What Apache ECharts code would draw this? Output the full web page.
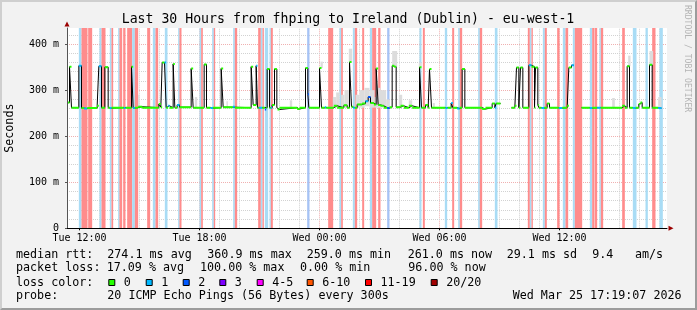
<!DOCTYPE html>
<html><head><meta charset="utf-8">
<script src="https://cdn.jsdelivr.net/npm/echarts@6/dist/echarts.min.js"></script>
<style>
html,body{margin:0;padding:0;background:#f2f2f2;overflow:hidden;}
#wrap{position:relative;width:697px;height:310px;}
#c{width:697px;height:310px;}
#frame{position:absolute;left:0;top:0;width:697px;height:310px;box-sizing:border-box;pointer-events:none;
border-top:2px solid #cfcfcf;border-left:2px solid #cfcfcf;border-right:2px solid #9c9c9c;border-bottom:2px solid #9c9c9c;}
</style></head>
<body><div id="wrap"><div id="c"></div><div id="frame"></div></div>
<script>
// ---------- data (time in minutes since Tue 00:00, rtt in ms) ----------
const xTickMinutes = [720, 1080, 1440, 1800, 2160];
const xTickLabels = ['Tue 12:00', 'Tue 18:00', 'Wed 00:00', 'Wed 06:00', 'Wed 12:00'];
const yTickValues = [0, 100, 200, 300, 400];
const yTickLabels = ['0', '100 m', '200 m', '300 m', '400 m'];
const lossLabels = ['0', '1', '2', '3', '4-5', '6-10', '11-19', '20/20'];
const lossColors = ['#26ff00', '#00b8ff', '#0059ff', '#7e00ff', '#ff00ff', '#ff5500', '#ff0000', '#a10000'];

// median rtt runs: [start minute, value ms (null = no data), loss class]
const medianRuns = [
 [683,273,0],[690,351,0],[696,262,0],[718,353,1],[726,261,0],[734,260,1],[743,261,0],[773,266,0],
 [778,352,1],[786,262,0],[796,350,0],[806,262,0],[811,261,1],[816,262,0],[853,261,1],[858,262,0],
 [876,351,0],[881,261,1],[886,262,0],[896,264,0],[908,262,0],[958,270,0],[964,263,0],[968,360,0],
 [975,360,1],[980,262,0],[986,266,1],[990,262,0],[1001,357,0],[1006,262,0],[1013,268,1],[1020,263,0],
 [1055,347,0],[1061,262,0],[1094,356,0],[1101,262,0],[1113,261,1],[1120,262,0],[1145,347,0],[1151,263,0],
 [1180,264,1],[1186,262,0],[1235,351,0],[1241,268,0],[1250,353,1],[1254,262,0],[1258,262,1],[1268,262,0],
 [1276,258,2],[1280,262,0],[1283,346,0],[1290,262,0],[1294,262,1],[1298,268,0],[1305,346,0],[1312,262,0],
 [1314,258,0],[1320,262,0],[1373,259,0],[1380,262,0],[1398,348,0],[1405,291,2],[1408,262,0],[1440,348,0],
 [1446,262,0],[1456,263,1],[1460,262,0],[1483,266,0],[1493,262,0],[1513,267,0],[1523,262,0],[1530,361,0],
 [1536,264,0],[1541,262,1],[1546,262,0],[1553,269,0],[1568,271,0],[1578,276,1],[1586,285,2],[1593,272,0],
 [1603,269,0],[1610,347,0],[1616,268,0],[1623,266,0],[1633,262,0],[1643,261,2],[1650,263,0],[1658,353,0],
 [1664,351,0],[1670,263,0],[1683,266,0],[1693,262,0],[1708,266,0],[1718,262,0],[1740,350,0],[1746,262,0],
 [1758,268,0],[1766,262,0],[1770,346,0],[1776,262,0],[1818,261,1],[1824,262,0],[1835,272,1],[1840,262,0],
 [1853,260,1],[1860,262,0],[1868,346,0],[1876,262,0],[1928,259,0],[1938,262,0],[1958,271,0],[1966,262,1],
 [1970,271,0],[1983,null,0],[2016,262,0],[2026,266,0],[2031,349,0],[2038,262,0],[2043,349,0],[2050,262,0],
 [2068,354,1],[2076,351,0],[2085,262,0],[2088,349,0],[2095,268,0],[2098,262,0],[2106,261,1],[2114,262,0],
 [2123,271,0],[2130,262,0],[2158,261,1],[2168,262,0],[2183,266,0],[2188,349,0],[2196,354,1],[2203,null,0],
 [2226,262,0],[2251,261,1],[2258,262,0],[2273,262,1],[2283,262,0],[2348,266,0],[2356,262,0],[2363,352,0],
 [2370,262,0],[2380,261,1],[2388,262,0],[2398,270,0],[2403,273,0],[2408,262,0],[2430,355,0],[2438,262,0],
 [2456,261,1],[2466,null,0]
];

// loss background stripes: [start minute, end minute, loss class]
const lossStripes = [
 [718,726,1],[726,744,6],[746,758,6],[780,786,1],[786,798,6],[811,816,1],[816,821,6],[836,840,1],[840,848,6],
 [851,858,6],[863,878,6],[878,886,1],[886,896,6],[923,932,6],[940,948,1],[948,956,6],[976,984,1],[1016,1020,1],
 [1020,1026,6],[1080,1085,1],[1085,1090,6],[1118,1123,1],[1123,1127,6],[1181,1186,1],[1186,1193,6],[1256,1264,6],
 [1264,1269,1],[1269,1273,6],[1276,1286,1],[1290,1294,1],[1294,1300,6],[1403,1410,2],[1466,1481,6],[1500,1505,1],
 [1505,1510,6],[1540,1546,1],[1546,1553,6],[1568,1574,6],[1591,1598,1],[1598,1610,6],[1616,1623,6],[1643,1650,2],
 [1740,1746,1],[1750,1756,6],[1816,1823,1],[1838,1844,6],[1856,1861,1],[1861,1868,6],[1916,1921,1],[1921,1928,6],
 [1966,1974,1],[2065,2071,6],[2071,2076,1],[2076,2080,6],[2110,2116,1],[2116,2122,6],[2153,2160,6],[2170,2178,1],
 [2178,2186,6],[2200,2206,1],[2206,2228,6],[2251,2258,1],[2258,2265,6],[2266,2273,6],[2280,2284,1],[2284,2291,6],
 [2348,2356,6],[2380,2391,1],[2418,2425,1],[2438,2448,6],[2460,2470,1]
];

// smoke (ping spread): [start minute, end minute, low ms, high ms]
const smoke = [
 [896,900,262,290],[1066,1073,262,285],[1161,1165,262,276],[1351,1358,262,278],[1443,1450,348,362],
 [1480,1490,262,285],[1490,1500,262,295],[1505,1515,262,290],[1515,1528,262,300],[1528,1538,361,390],
 [1548,1560,262,290],[1560,1575,262,300],[1575,1590,265,305],[1590,1605,262,300],[1605,1620,262,285],
 [1616,1623,262,305],[1620,1640,262,300],[1640,1650,262,280],[1658,1673,352,385],[1678,1688,262,290],
 [1708,1718,262,278],[1738,1746,350,360],[1780,1786,262,272],[2318,2326,262,283],[2366,2373,352,375],
 [2430,2441,355,385],[2456,2466,262,285]
];

const statsRtt = [['median rtt:',16],['274.1 ms avg',107.3],['360.9 ms max',207.3],['259.0 ms min',306.7],
 ['261.0 ms now',407.7],['29.1 ms sd',506.7],['9.4',592.3],['am/s',635]];
const statsLoss = [['packet loss:',16],['17.09 % avg',106.7],['100.00 % max',200],['0.00 % min',300],['96.00 % now',408.3]];
const probeText = [['probe:',16],['20 ICMP Echo Pings (56 Bytes) every 300s',107.3],['Wed Mar 25 17:19:07 2026',512.7]];
const titleText = 'Last 30 Hours from fhping to Ireland (Dublin) - eu-west-1';

// ---------- styles ----------
const MONO = '"DejaVu Sans Mono", monospace';
const stripeColor = {1: '#a9dcf5', 2: '#a6c3f5', 6: '#ff8c8c'};
const X_MIN = 682.5, X_MAX = 2482.5, Y_MAX = 435;
const legendBoxX = [108.3, 145.7, 182.7, 219.3, 256.7, 306.7, 365, 430.7];

function blackLine(runs) {
  const out = [];
  for (let i = 0; i < runs.length - 1; i++) {
    const s = runs[i][0], v = runs[i][1], e = runs[i + 1][0];
    if (v == null) { out.push([s, null]); continue; }
    out.push([s, v], [e, v]);
  }
  return out;
}
function levelLine(runs, lvl) {
  const out = [];
  for (let i = 0; i < runs.length - 1; i++) {
    const s = runs[i][0], v = runs[i][1], l = runs[i][2], e = runs[i + 1][0];
    if (v == null || l !== lvl) continue;
    out.push([s, v], [e, v], [e, null]);
  }
  return out;
}

const gridLines = [];
for (let m = 720; m < X_MAX; m += 60) {
  const major = (m - 720) % 360 === 0;
  gridLines.push({xAxis: m, lineStyle: {color: major ? '#f0b0b0' : '#d2d2d2', type: [1, 1], width: 1}});
}
for (let v = 20; v < Y_MAX; v += 20) {
  const major = v % 100 === 0;
  gridLines.push({yAxis: v, lineStyle: {color: major ? '#f0b0b0' : '#d2d2d2', type: [1, 1], width: 1}});
}

const areas = lossStripes.map(s => [{xAxis: s[0], itemStyle: {color: stripeColor[s[2]], opacity: 1, borderWidth: 0}}, {xAxis: s[1]}]);

const levelSeries = [0, 1, 2].map(l => ({
  type: 'line', name: 'loss ' + lossLabels[l], z: 6, silent: true, symbol: 'none', showSymbol: false,
  data: levelLine(medianRuns, l), lineStyle: {color: lossColors[l], width: 2}, animation: false, connectNulls: false
}));

const graphic = [];
function txt(t, x, y, extra) {
  graphic.push(Object.assign({type: 'text', x: x, y: y, silent: true,
    style: {text: t, font: '11.7px ' + MONO, fill: '#000', align: 'left', verticalAlign: 'middle'}}, extra || {}));
}
graphic.push({type: 'text', x: 348, y: 19.5, silent: true,
  style: {text: titleText, font: '13.2px ' + MONO, fill: '#000', align: 'center', verticalAlign: 'middle'}});
statsRtt.forEach(p => txt(p[0], p[1], 254.8));
statsLoss.forEach(p => txt(p[0], p[1], 268.3));
txt('loss color:', 16, 282.5);
lossLabels.forEach((lab, i) => {
  graphic.push({type: 'rect', silent: true, shape: {x: legendBoxX[i] + 0.5, y: 279.5, width: 6, height: 6},
    style: {fill: lossColors[i], stroke: '#000', lineWidth: 1}});
  txt(lab, legendBoxX[i] + 15.5, 282.5);
});
probeText.forEach(p => txt(p[0], p[1], 296.3));
graphic.push({type: 'text', x: 687, y: 5, rotation: -Math.PI / 2, silent: true,
  style: {text: 'RRDTOOL / TOBI OETIKER', font: '8.1px ' + MONO, fill: '#b4b4b4', align: 'left', verticalAlign: 'middle'}});

const chart = echarts.init(document.getElementById('c'), null, {renderer: 'canvas'});
chart.setOption({
  animation: false,
  backgroundColor: '#f2f2f2',
  grid: [
    {left: 67, top: 28, width: 600, height: 200.3, show: true, backgroundColor: '#ffffff', borderWidth: 0,
     containLabel: false, outerBoundsMode: 'none'},
    {left: 67, top: 28, width: 600, height: 200.3, show: false, containLabel: false, outerBoundsMode: 'none'}
  ],
  xAxis: [
    {type: 'value', gridIndex: 0, min: X_MIN, max: X_MAX, z: 10,
     axisLine: {show: true, onZero: false, lineStyle: {color: '#000', width: 1}},
     axisTick: {show: true, customValues: xTickMinutes, length: 2, lineStyle: {color: '#000'}},
     axisLabel: {show: true, customValues: xTickMinutes, margin: 5, color: '#000', fontFamily: MONO, fontSize: 10,
       formatter: v => xTickLabels[xTickMinutes.indexOf(v)]},
     splitLine: {show: false}},
    {type: 'value', gridIndex: 1, min: X_MIN, max: X_MAX, z: 11,
     axisLine: {show: true, onZero: false, symbol: ['none', 'triangle'], symbolSize: [5, 5], symbolOffset: [0, 4],
       lineStyle: {color: '#9b0000', width: 0}},
     axisTick: {show: false}, axisLabel: {show: false}, splitLine: {show: false}}
  ],
  yAxis: [
    {type: 'value', gridIndex: 0, min: 0, max: Y_MAX, z: 10,
     name: 'Seconds', nameLocation: 'middle', nameGap: 51, nameRotate: 90,
     nameTextStyle: {fontFamily: MONO, fontSize: 11.7, color: '#000'},
     axisLine: {show: true, lineStyle: {color: '#555', width: 1}},
     axisTick: {show: true, customValues: yTickValues, length: 2, lineStyle: {color: '#555'}},
     axisLabel: {show: true, customValues: yTickValues, margin: 8, color: '#000', fontFamily: MONO, fontSize: 10,
       formatter: v => yTickLabels[yTickValues.indexOf(v)]},
     splitLine: {show: false}},
    {type: 'value', gridIndex: 1, min: 0, max: Y_MAX, z: 11,
     axisLine: {show: true, symbol: ['none', 'triangle'], symbolSize: [5, 5], symbolOffset: [0, 4],
       lineStyle: {color: '#9b0000', width: 0}},
     axisTick: {show: false}, axisLabel: {show: false}, splitLine: {show: false}}
  ],
  graphic: graphic,
  series: [
    {type: 'line', name: 'grid', data: [], z: 1, silent: true,
     markLine: {silent: true, z: 1, symbol: ['none', 'none'], label: {show: false}, animation: false, data: gridLines}},
    {type: 'line', name: 'loss bg', data: [], z: 2, silent: true,
     markArea: {silent: true, z: 2, label: {show: false}, animation: false, data: areas}},
    {type: 'custom', name: 'smoke', z: 3, silent: true, data: smoke, encode: {x: [0, 1], y: [2, 3]},
     renderItem: (params, api) => {
       const p0 = api.coord([api.value(0), api.value(3)]);
       const p1 = api.coord([api.value(1), api.value(2)]);
       return {type: 'rect', shape: {x: p0[0], y: p0[1], width: p1[0] - p0[0], height: p1[1] - p0[1]},
         style: {fill: '#dcdcdc'}};
     }},
    {type: 'line', name: 'median', z: 5, silent: true, symbol: 'none', showSymbol: false, connectNulls: false,
     data: blackLine(medianRuns), lineStyle: {color: '#000', width: 1}}
  ].concat(levelSeries)
});
</script></body></html>
